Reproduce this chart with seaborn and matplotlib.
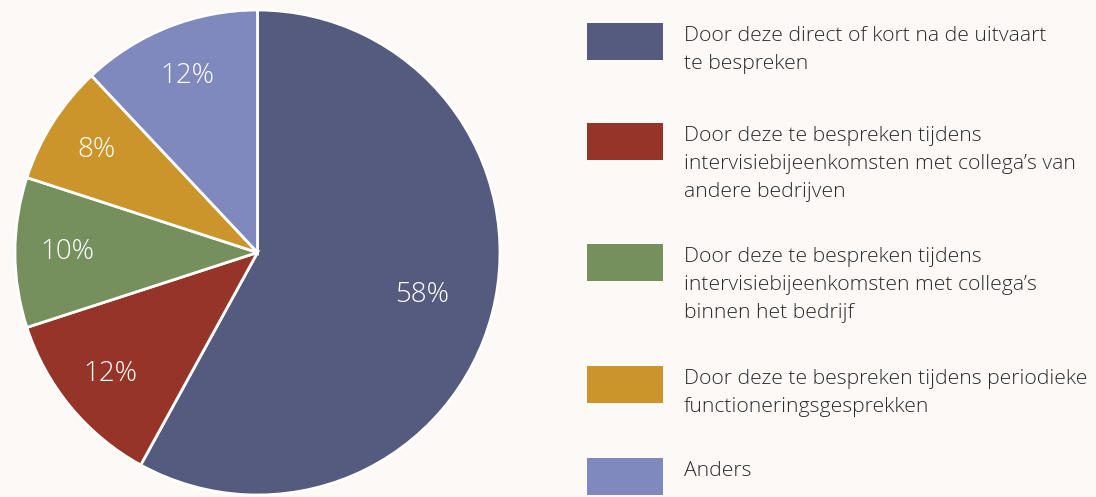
import matplotlib.pyplot as plt
import matplotlib.patches as mpatches
import numpy as np
import seaborn as sns

# data
labels = [
    "Door deze direct of kort na de uitvaart\nte bespreken",
    "Door deze te bespreken tijdens\nintervisiebijeenkomsten met collega\u2019s van\nandere bedrijven",
    "Door deze te bespreken tijdens\nintervisiebijeenkomsten met collega\u2019s\nbinnen het bedrijf",
    "Door deze te bespreken tijdens periodieke\nfunctioneringsgesprekken",
    "Anders",
]
shares = [58, 12, 10, 8, 12]
colors = ["#555b7e", "#963428", "#75905c", "#cb952b", "#7f89bd"]

bg = "#fcf9f6"
sns.set_theme(style="white")
plt.rcParams["font.family"] = ["Open Sans", "DejaVu Sans"]

fig = plt.figure(figsize=(10.96, 4.97), dpi=100, facecolor=bg)
W, H = 1096, 497

# pie axes: pixel box x 14..501, y 10..495
ax = fig.add_axes([14 / W, 1 - 495 / H, 487 / W, 485 / H])
ax.set_facecolor(bg)
wedges, _ = ax.pie(
    shares, colors=sns.color_palette(colors), startangle=90, counterclock=False,
    radius=1, wedgeprops=dict(edgecolor="white", linewidth=2))
ax.set_xlim(-1.0, 1.0)
ax.set_ylim(-1.0, 1.0)
ax.set_aspect("equal")
ax.axis("off")
for w in wedges:
    w.set_clip_on(False)

# percentage labels inside slices
for i, (w, s) in enumerate(zip(wedges, shares)):
    mid = np.deg2rad((w.theta1 + w.theta2) / 2)
    r = 0.70 if i == 0 else 0.785
    ax.text(r * np.cos(mid), r * np.sin(mid), f"{s}%", color="white",
            fontsize=20, ha="center", va="center", fontweight="light")

# legend drawn by hand: square tops in pixels
tops = [23, 123, 244, 366, 458]
for top, lab, c in zip(tops, labels, colors):
    fig.patches.append(mpatches.Rectangle(
        (587 / W, 1 - (top + 37) / H), 76 / W, 37 / H,
        transform=fig.transFigure, facecolor=c, edgecolor="none"))
    fig.text(684 / W, 1 - (top + 3) / H, lab, ha="left", va="top",
             fontsize=15.2, color="#2b2b2b", linespacing=1.52, fontweight="light")

fig.savefig("out.png", dpi=100, facecolor=bg)
